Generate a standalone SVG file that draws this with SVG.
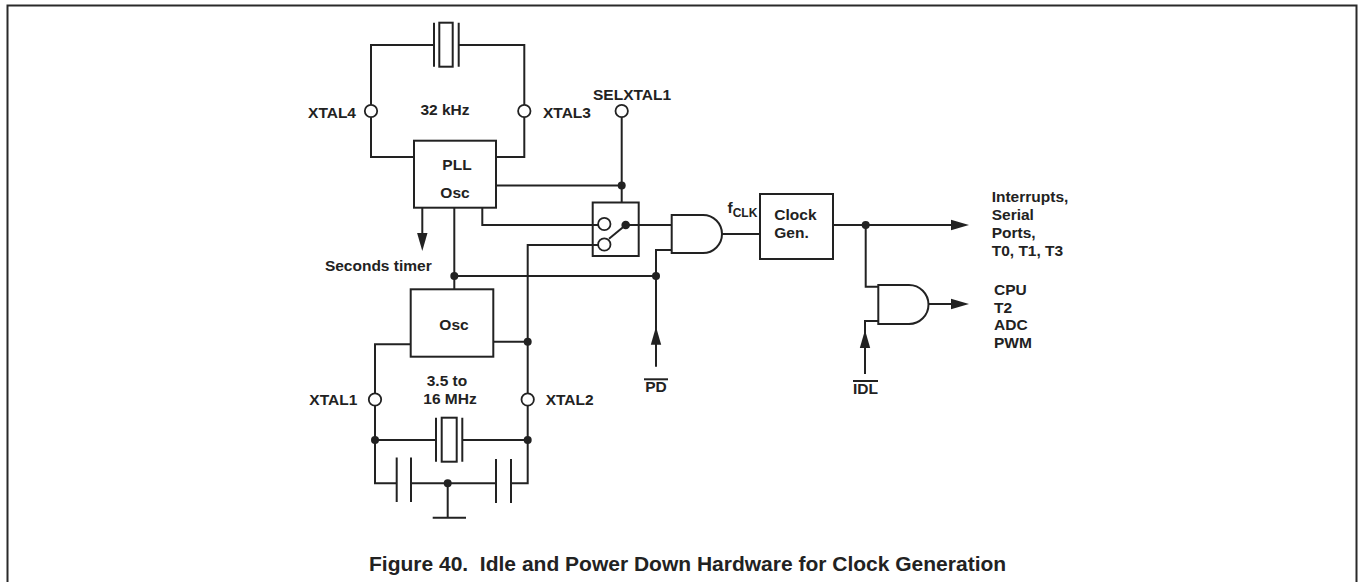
<svg xmlns="http://www.w3.org/2000/svg" width="1358" height="582" viewBox="0 0 1358 582">
<defs>
<style>
.w{fill:none;stroke:#222;stroke-width:2;stroke-linejoin:miter}
.b{fill:#fff;stroke:#222;stroke-width:2}
.n{fill:none;stroke:#222;stroke-width:2}
.pin{fill:#fff;stroke:#222;stroke-width:1.8}
.dot{fill:#222}
.t{font-family:"Liberation Sans",Arial,Helvetica,sans-serif;font-weight:bold;font-size:15.5px;fill:#222}
.cap{font-family:"Liberation Sans",Arial,Helvetica,sans-serif;font-weight:bold;font-size:21px;fill:#222;white-space:pre}
</style>
<path id="ah" d="M0,0 L-18,-5.2 L-18,5.2 Z" fill="#222"/>
</defs>
<rect width="1358" height="582" fill="#fff"/>
<path d="M7.5,590 V5.5 H1356.5 V590" fill="none" stroke="#2a2a2a" stroke-width="2"/>

<g id="connectors">
<path class="w" d="M414,157 H371 V45 H434 M458.7,45 H524.3 V157 H496"/>
<path class="w" d="M621.7,117 V202.5"/>
<path class="w" d="M496,185.5 H621.7"/>
<path class="w" d="M482.3,207.7 V225 H598"/>
<path class="w" d="M422.3,207.7 V235"/>
<use href="#ah" transform="translate(422.3,251) rotate(90)"/>
<path class="w" d="M454.3,207.7 V289.3"/>
<path class="w" d="M454.3,276 H656"/>
<path class="w" d="M598,245 H527.7 V483.3 H511"/>
<path class="w" d="M493.3,341.7 H527.7"/>
<path class="w" d="M410.7,344.3 H375 V483.3 H396.7"/>
<path class="w" d="M375,440 H436 M462.3,440 H527.7"/>
<path class="w" d="M411,483.3 H496"/>
<path class="w" d="M447.7,483.3 V517.7 M432.7,517.7 H466"/>
<path class="w" d="M625.7,225 H671.7"/>
<path class="w" d="M656,366.7 V250 H671.7"/>
<use href="#ah" transform="translate(656,326.7) rotate(-90)"/>
<path class="w" d="M722,234 H760"/>
<path class="w" d="M833,225 H955"/>
<use href="#ah" transform="translate(969,225)"/>
<path class="w" d="M865.7,225 V286.7 H878.3"/>
<path class="w" d="M928.5,304 H955"/>
<use href="#ah" transform="translate(969,304)"/>
<path class="w" d="M865,374 V321 H878.3"/>
<use href="#ah" transform="translate(865,330) rotate(-90)"/>
<circle class="dot" cx="621.7" cy="185.5" r="4"/>
<circle class="dot" cx="454.3" cy="276" r="4"/>
<circle class="dot" cx="656" cy="276" r="4"/>
<circle class="dot" cx="527.7" cy="341.7" r="4"/>
<circle class="dot" cx="375" cy="440" r="4"/>
<circle class="dot" cx="527.7" cy="440" r="4"/>
<circle class="dot" cx="447.7" cy="483.3" r="4"/>
<circle class="dot" cx="865.7" cy="225" r="4"/>
</g>

<g id="crystal32k">
<path class="w" d="M434,22.7 V66.7 M458.7,22.7 V66.7"/>
<rect class="b" x="439.3" y="22.7" width="13.4" height="44"/>
<text class="t" x="445" y="115" text-anchor="middle">32 kHz</text>
</g>
<g id="xtal4"><circle class="pin" cx="371" cy="111" r="6.2"/><text class="t" x="356" y="118" text-anchor="end">XTAL4</text></g>
<g id="xtal3"><circle class="pin" cx="524.3" cy="111" r="6.2"/><text class="t" x="543" y="118">XTAL3</text></g>
<g id="selxtal1"><circle class="pin" cx="621.7" cy="111" r="6.2"/><text class="t" x="593" y="100">SELXTAL1</text></g>

<g id="pll">
<rect class="b" x="414" y="140.7" width="82" height="67"/>
<text class="t" x="457" y="170" text-anchor="middle">PLL</text>
<text class="t" x="455" y="197.5" text-anchor="middle">Osc</text>
</g>
<g id="seconds"><text class="t" x="431.7" y="270.7" text-anchor="end">Seconds timer</text></g>

<g id="switch">
<rect class="n" x="592.7" y="202.5" width="46" height="53.5"/>
<path class="w" d="M625.7,225 L609,238.7"/>
<circle class="pin" cx="604.3" cy="224" r="6.2"/>
<circle class="pin" cx="604.3" cy="244.5" r="6.2"/>
<circle class="dot" cx="625.7" cy="225" r="4.3"/>
</g>

<g id="osc">
<rect class="b" x="410.7" y="289.3" width="82.6" height="67.4"/>
<text class="t" x="454" y="330" text-anchor="middle">Osc</text>
</g>

<g id="xtal1"><circle class="pin" cx="375" cy="399.5" r="6.2"/><text class="t" x="357.3" y="405" text-anchor="end">XTAL1</text></g>
<g id="xtal2"><circle class="pin" cx="527.7" cy="399.5" r="6.2"/><text class="t" x="545.7" y="405">XTAL2</text></g>

<g id="crystalMHz">
<path class="w" d="M436,417.7 V461.7 M462.3,417.7 V461.7"/>
<rect class="b" x="441.7" y="417.7" width="15" height="44"/>
<text class="t" x="447" y="386" text-anchor="middle">3.5 to</text>
<text class="t" x="450" y="404" text-anchor="middle">16 MHz</text>
</g>

<g id="caps">
<path class="w" d="M396.7,457.5 V502 M411,457.5 V502 M496,459 V503 M511,459 V503"/>
</g>

<g id="and1">
<path class="b" d="M671.7,215 H703 A19,19 0 0 1 703,253 H671.7 Z"/>
</g>
<g id="pd">
<text class="t" x="656" y="392" text-anchor="middle">PD</text>
<path class="w" d="M644,379.3 H668" stroke-width="1.5"/>
</g>

<g id="fclk">
<text class="t" x="727.5" y="213">f<tspan font-size="12" dy="4">CLK</tspan></text>
</g>

<g id="clockgen">
<rect class="b" x="760" y="194" width="73" height="65"/>
<text class="t" x="774.3" y="220">Clock</text>
<text class="t" x="774.3" y="238">Gen.</text>
</g>

<g id="out1">
<text class="t" x="991.7" y="201.7">Interrupts,</text>
<text class="t" x="991.7" y="220">Serial</text>
<text class="t" x="991.7" y="238.3">Ports,</text>
<text class="t" x="991.7" y="256">T0, T1, T3</text>
</g>

<g id="and2">
<path class="b" d="M878.3,285 H909 A19.5,19.5 0 0 1 909,324 H878.3 Z"/>
</g>

<g id="out2">
<text class="t" x="994" y="295">CPU</text>
<text class="t" x="994" y="312.5">T2</text>
<text class="t" x="994" y="330">ADC</text>
<text class="t" x="994" y="347.5">PWM</text>
</g>

<g id="idl">
<text class="t" x="865.5" y="393.5" text-anchor="middle">IDL</text>
<path class="w" d="M853,381 H878" stroke-width="1.5"/>
</g>

<text class="cap" x="369" y="571" xml:space="preserve">Figure 40.  Idle and Power Down Hardware for Clock Generation</text>
</svg>
